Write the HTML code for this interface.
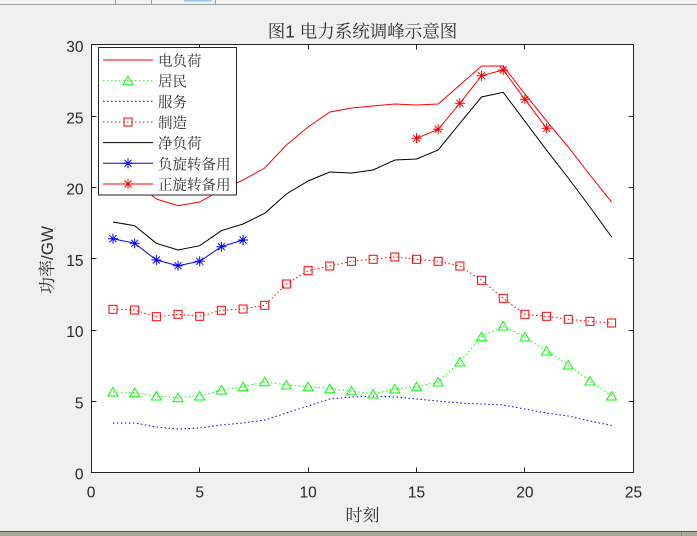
<!DOCTYPE html>
<html><head><meta charset="utf-8"><style>
html,body{margin:0;padding:0;background:#f0f0f0;}
svg{display:block;}
text{font-family:"Liberation Sans","Noto Sans CJK SC",sans-serif;fill:#262626;}
.cj{font-family:"Liberation Sans","Noto Serif CJK SC",serif;fill:#303030;}
</style></head><body>
<svg width="697" height="536" viewBox="0 0 697 536" xmlns="http://www.w3.org/2000/svg">
<defs>
<marker id="mSq" markerWidth="12" markerHeight="12" refX="6" refY="6" markerUnits="userSpaceOnUse" overflow="visible"><rect x="2" y="2" width="8" height="8" fill="none" stroke="#ff0000" stroke-width="1"/></marker>
<marker id="mTri" markerWidth="12" markerHeight="12" refX="6" refY="6" markerUnits="userSpaceOnUse" overflow="visible"><path d="M6 1.5L11 10L1 10Z" fill="none" stroke="#00ff00" stroke-width="1"/></marker>
<marker id="mStB" markerWidth="12" markerHeight="12" refX="6" refY="6" markerUnits="userSpaceOnUse" overflow="visible"><path d="M1 6h10M6 1v10M2.5 2.5l7 7M2.5 9.5l7-7" fill="none" stroke="#0000ff" stroke-width="1"/></marker>
<marker id="mStR" markerWidth="12" markerHeight="12" refX="6" refY="6" markerUnits="userSpaceOnUse" overflow="visible"><path d="M1 6h10M6 1v10M2.5 2.5l7 7M2.5 9.5l7-7" fill="none" stroke="#ff0000" stroke-width="1"/></marker>
</defs>
<!-- top strip -->
<rect x="0" y="0" width="697" height="4" fill="#f3f3f3"/>
<rect x="0" y="4" width="697" height="1" fill="#a0a0a0"/>
<rect x="115" y="0" width="1" height="4" fill="#a0a0a0"/>
<rect x="151" y="0" width="1" height="4" fill="#a0a0a0"/>
<rect x="215" y="0" width="1" height="4" fill="#a0a0a0"/>
<rect x="184" y="0" width="28" height="1.5" fill="#99c9ef"/>
<!-- bottom strip -->
<rect x="0" y="531" width="697" height="1" fill="#505050"/>
<rect x="0" y="532" width="697" height="4" fill="#aba996"/>
<rect x="681" y="532" width="1" height="4" fill="#8a8878"/>

<!-- plot area -->
<rect x="91.5" y="44.5" width="542" height="428" fill="#ffffff"/>

<!-- series -->
<polyline fill="none" stroke="#0000ff" stroke-width="1" stroke-dasharray="1.5 2.5" points="112.98,423 134.66,423 156.34,427 178.02,429 199.7,428 221.38,425 243.06,423 264.74,420 286.42,413 308.1,406 329.78,399 351.46,397 373.14,396 394.82,397 416.5,399 438.18,401 459.86,403 481.54,404 503.22,405 524.9,409 546.58,413 568.26,416 589.94,421 611.62,425.5"/>
<polyline fill="none" stroke="#00ff00" stroke-width="1" stroke-dasharray="1.5 2.5" marker-start="url(#mTri)" marker-mid="url(#mTri)" marker-end="url(#mTri)" points="112.98,392 134.66,392.7 156.34,396 178.02,397.7 199.7,396 221.38,390 243.06,386.7 264.74,381.7 286.42,385 308.1,386.7 329.78,388.7 351.46,391 373.14,394 394.82,389 416.5,386.7 438.18,382 459.86,362 481.54,336.7 503.22,326 524.9,337 546.58,351 568.26,365 589.94,381 611.62,396"/>
<polyline fill="none" stroke="#ff0000" stroke-width="1" stroke-dasharray="1.5 2.5" marker-start="url(#mSq)" marker-mid="url(#mSq)" marker-end="url(#mSq)" points="112.98,309.3 134.66,310 156.34,316.7 178.02,314.3 199.7,316.3 221.38,310.3 243.06,309 264.74,305.3 286.42,284 308.1,270.7 329.78,266 351.46,261.3 373.14,259.3 394.82,257 416.5,259.3 438.18,261.3 459.86,266 481.54,280.3 503.22,298.3 524.9,314.3 546.58,316.3 568.26,319.3 589.94,321.3 611.62,323"/>
<polyline fill="none" stroke="#000000" stroke-width="1" points="112.98,222 134.66,225.7 156.34,243.3 178.02,250 199.7,245.7 221.38,230.7 243.06,224 264.74,213.3 286.42,194 308.1,181 329.78,172 351.46,173 373.14,170 394.82,160 416.5,159 438.18,150 459.86,123.3 481.54,97 503.22,92.3 524.9,121.3 546.58,150.2 568.26,178 589.94,207 611.62,237"/>
<polyline fill="none" stroke="#ff0000" stroke-width="1" points="112.98,178 134.66,182 156.34,199 178.02,205.7 199.7,202 221.38,190 243.06,180 264.74,168 286.42,145 308.1,127 329.78,112 351.46,108 373.14,106 394.82,104 416.5,105 438.18,104 459.86,85 481.54,66 503.22,66 524.9,94 546.58,121 568.26,147 589.94,175 611.62,202"/>
<polyline fill="none" stroke="#0000ff" stroke-width="1" marker-start="url(#mStB)" marker-mid="url(#mStB)" marker-end="url(#mStB)" points="112.98,238.7 134.66,243.3 156.34,260 178.02,265.7 199.7,261.3 221.38,246.7 243.06,240"/>
<polyline fill="none" stroke="#ff0000" stroke-width="1" marker-start="url(#mStR)" marker-mid="url(#mStR)" marker-end="url(#mStR)" points="416.5,138.3 438.18,129.3 459.86,103.3 481.54,75.7 503.22,70 524.9,99.3 546.58,128.3"/>

<!-- axes box & ticks -->
<rect x="91.5" y="44.5" width="542" height="428" fill="none" stroke="#262626" stroke-width="1"/>
<path stroke="#262626" stroke-width="1" fill="none" d="
M199.5 472.5v-5M308.5 472.5v-5M416.5 472.5v-5M524.5 472.5v-5
M199.5 44.5v5M308.5 44.5v5M416.5 44.5v5M524.5 44.5v5
M91.5 401.5h5M91.5 330.5h5M91.5 258.5h5M91.5 187.5h5M91.5 116.5h5
M633.5 401.5h-5M633.5 330.5h-5M633.5 258.5h-5M633.5 187.5h-5M633.5 116.5h-5"/>

<!-- tick labels -->
<g font-size="15.5" text-anchor="end">
<text x="83.5" y="479.6">0</text>
<text x="83.5" y="408.3">5</text>
<text x="83.5" y="337.1">10</text>
<text x="83.5" y="265.8">15</text>
<text x="83.5" y="194.6">20</text>
<text x="83.5" y="123.3">25</text>
<text x="83.5" y="52">30</text>
</g>
<g font-size="15.5" text-anchor="middle">
<text x="91" y="497.5">0</text>
<text x="199.7" y="497.5">5</text>
<text x="308.1" y="497.5">10</text>
<text x="416.5" y="497.5">15</text>
<text x="524.9" y="497.5">20</text>
<text x="633.5" y="497.5">25</text>
</g>

<!-- titles -->
<text class="cj" x="362.5" y="37.5" font-size="17.5" text-anchor="middle">图1 电力系统调峰示意图</text>
<text class="cj" x="362.5" y="521" font-size="17" text-anchor="middle">时刻</text>
<text class="cj" transform="translate(53,260) rotate(-90)" font-size="17" text-anchor="middle">功率/GW</text>

<!-- legend -->
<rect x="98.5" y="47.5" width="138" height="147.5" fill="#ffffff" stroke="#262626" stroke-width="1"/>
<g stroke-width="1" fill="none">
<line x1="103" y1="60" x2="153" y2="60" stroke="#ff0000"/>
<line x1="103" y1="80.7" x2="153" y2="80.7" stroke="#00ff00" stroke-dasharray="1.5 2.5"/>
<path d="M128 76.2L133 84.7L123 84.7Z" stroke="#00ff00"/>
<line x1="103" y1="101.3" x2="153" y2="101.3" stroke="#0000ff" stroke-dasharray="1.5 2.5"/>
<line x1="103" y1="122" x2="153" y2="122" stroke="#ff0000" stroke-dasharray="1.5 2.5"/>
<rect x="124" y="118" width="8" height="8" stroke="#ff0000"/>
<line x1="103" y1="142.6" x2="153" y2="142.6" stroke="#000000"/>
<line x1="103" y1="163.3" x2="153" y2="163.3" stroke="#0000ff"/>
<path d="M123 163.3h10M128 158.3v10M124.5 159.8l7 7M124.5 166.8l7-7" stroke="#0000ff"/>
<line x1="103" y1="184" x2="153" y2="184" stroke="#ff0000"/>
<path d="M123 184h10M128 179v10M124.5 180.5l7 7M124.5 187.5l7-7" stroke="#ff0000"/>
</g>
<g font-size="14.5" class="cj">
<text class="cj" x="158" y="66">电负荷</text>
<text class="cj" x="158" y="86.7">居民</text>
<text class="cj" x="158" y="107.3">服务</text>
<text class="cj" x="158" y="128">制造</text>
<text class="cj" x="158" y="148.6">净负荷</text>
<text class="cj" x="158" y="169.3">负旋转备用</text>
<text class="cj" x="158" y="190">正旋转备用</text>
</g>
</svg>
</body></html>
